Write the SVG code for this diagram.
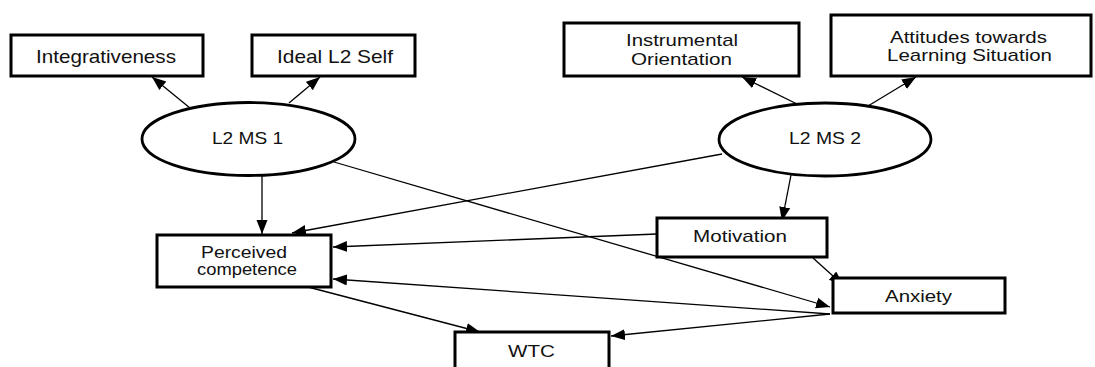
<svg xmlns="http://www.w3.org/2000/svg" width="1095" height="367" viewBox="0 0 1095 367">
<style>
.box{fill:#fff;stroke:#000;stroke-width:3}
.ell{fill:#fff;stroke:#000;stroke-width:2.8}
.t{font-family:"Liberation Sans",Arial,sans-serif;font-size:17px;fill:#111;text-anchor:middle}
.big{font-size:18.5px}
.c{stroke:#000;stroke-width:1.3;fill:none;marker-end:url(#ah)}
</style>
<defs>
<marker id="ah" markerUnits="userSpaceOnUse" markerWidth="15" markerHeight="12" refX="14" refY="5.5" orient="auto">
<path d="M0,0 L14,5.5 L0,11 z" fill="#000"/>
</marker>
</defs>
<g id="connectors">
<line class="c" x1="190" y1="108" x2="152" y2="77"/>
<line class="c" x1="289" y1="103" x2="320" y2="77"/>
<line class="c" x1="797" y1="104" x2="742" y2="77"/>
<line class="c" x1="868" y1="106" x2="916" y2="77"/>
<line class="c" x1="262" y1="175" x2="262" y2="234"/>
<line class="c" x1="722" y1="154" x2="292" y2="233"/>
<line class="c" x1="334" y1="162" x2="830" y2="307"/>
<line class="c" x1="791" y1="175" x2="782" y2="221"/>
<line class="c" x1="657" y1="234" x2="333" y2="247"/>
<line class="c" x1="813" y1="258" x2="843" y2="285"/>
<line class="c" x1="830" y1="314" x2="333" y2="279"/>
<line class="c" x1="830" y1="314" x2="611" y2="336"/>
<line class="c" x1="308" y1="287" x2="480" y2="332"/>
</g>
<g id="integrativeness">
<rect class="box" x="11" y="35" width="192" height="41"/>
<text class="t big" x="106" y="63" textLength="140" lengthAdjust="spacingAndGlyphs">Integrativeness</text>
</g>
<g id="ideal-l2-self">
<rect class="box" x="252" y="35" width="163" height="41"/>
<text class="t big" x="335" y="63" textLength="116" lengthAdjust="spacingAndGlyphs">Ideal L2 Self</text>
</g>
<g id="instrumental">
<rect class="box" x="564" y="23" width="235" height="53"/>
<text class="t" x="682" y="46" textLength="112" lengthAdjust="spacingAndGlyphs">Instrumental</text>
<text class="t" x="681.5" y="65" textLength="101" lengthAdjust="spacingAndGlyphs">Orientation</text>
</g>
<g id="attitudes">
<rect class="box" x="831" y="15" width="260" height="61"/>
<text class="t" x="968.5" y="43" textLength="157" lengthAdjust="spacingAndGlyphs">Attitudes towards</text>
<text class="t" x="969.5" y="61" textLength="165" lengthAdjust="spacingAndGlyphs">Learning Situation</text>
</g>
<g id="l2ms1">
<ellipse class="ell" cx="248.5" cy="139" rx="106.5" ry="36.5"/>
<text class="t" x="247.5" y="144" textLength="71" lengthAdjust="spacingAndGlyphs">L2 MS 1</text>
</g>
<g id="l2ms2">
<ellipse class="ell" cx="825" cy="139.5" rx="106" ry="36.5"/>
<text class="t" x="825" y="144" textLength="72" lengthAdjust="spacingAndGlyphs">L2 MS 2</text>
</g>
<g id="perceived-competence">
<rect class="box" x="157" y="235" width="174" height="52"/>
<text class="t" x="244" y="258" textLength="86" lengthAdjust="spacingAndGlyphs">Perceived</text>
<text class="t" x="247" y="275" textLength="100" lengthAdjust="spacingAndGlyphs">competence</text>
</g>
<g id="motivation">
<rect class="box" x="657" y="218" width="170" height="39"/>
<text class="t" x="740" y="242" textLength="94" lengthAdjust="spacingAndGlyphs">Motivation</text>
</g>
<g id="anxiety">
<rect class="box" x="833" y="278" width="172" height="35"/>
<text class="t" x="918.5" y="302" textLength="67" lengthAdjust="spacingAndGlyphs">Anxiety</text>
</g>
<g id="wtc">
<rect class="box" x="455" y="332" width="154" height="42"/>
<text class="t" x="531.5" y="357" textLength="47" lengthAdjust="spacingAndGlyphs">WTC</text>
</g>
</svg>
